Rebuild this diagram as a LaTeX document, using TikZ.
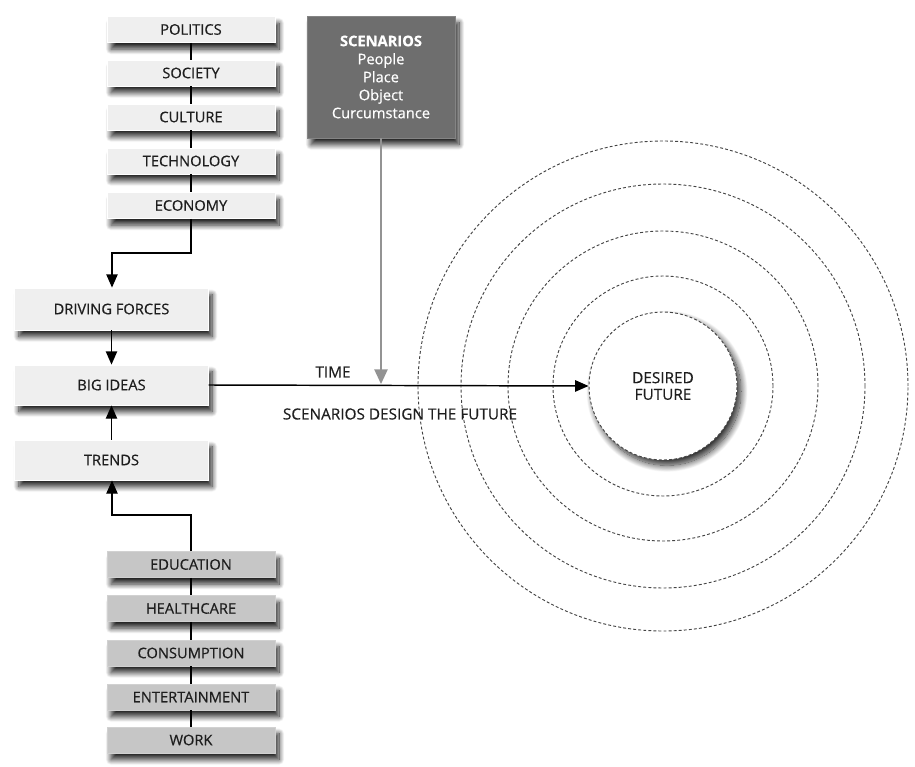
\documentclass[tikz,border=0pt]{standalone}
\usepackage{fontspec}
\setmainfont{Open Sans}[FakeBold=0.45]
\usetikzlibrary{arrows.meta,shadows.blur,calc}
\definecolor{boxlight}{HTML}{EFEFEF}
\definecolor{boxmid}{HTML}{C6C6C6}
\definecolor{boxdark}{HTML}{6E6E6E}
\definecolor{ringgray}{HTML}{444444}
\definecolor{ink}{HTML}{1E1E1E}
\begin{document}
\begin{tikzpicture}[x=0.75pt,y=-0.75pt,
  shad/.style={blur shadow={shadow xshift=3pt,shadow yshift=-5pt,shadow blur radius=4pt,shadow blur steps=14,shadow opacity=85}},
  smallbox/.style={shad,fill=boxlight,draw=white,line width=0.6pt,minimum width=126pt,minimum height=19.5pt,inner sep=0pt,text=ink,font=\fontsize{11}{13}\selectfont},
  midbox/.style={smallbox,fill=boxmid,draw=boxmid!80!white},
  bigbox/.style={shad,fill=boxlight,draw=white,line width=0.6pt,minimum width=145pt,minimum height=30pt,inner sep=0pt,text=ink,font=\fontsize{11}{13}\selectfont},
  link/.style={line width=1.1pt,black},
  arr/.style={link,-{Triangle[length=10pt,width=8.5pt]}},
  ring/.style={draw=ringgray,line width=0.7pt,dash pattern=on 2.2pt off 1.6pt},
  plain/.style={text=ink,font=\fontsize{11.5}{13}\selectfont}
]
\useasboundingbox (0,0) rectangle (915,767);

% concentric time rings around the goal
\foreach \r in {245,202,155,110}
  \draw[ring] (663,386) circle[radius=\r*0.75pt];
\node[circle,ring,fill=white,minimum size=111pt,inner sep=0pt,
      blur shadow={shadow xshift=3pt,shadow yshift=-4pt,shadow blur radius=5pt,shadow blur steps=16,shadow opacity=85},
      align=center,text=ink,font=\fontsize{11.5}{12.5}\selectfont] (future) at (663,386) {DESIRED\\FUTURE};

% macro environment
\node[smallbox] (pol) at (191,29.5) {POLITICS};
\node[smallbox] (soc) at (191,73) {SOCIETY};
\node[smallbox] (cul) at (191,117) {CULTURE};
\node[smallbox] (tec) at (191,161) {TECHNOLOGY};
\node[smallbox] (eco) at (191,205.5) {ECONOMY};

% core chain
\node[bigbox,minimum height=31.5pt] (drv) at (111.5,309) {DRIVING FORCES};
\node[bigbox] (big) at (111.5,385) {BIG IDEAS};
\node[bigbox] (trd) at (111.5,460) {TRENDS};

% everyday domains
\node[midbox] (edu) at (191,564.5) {EDUCATION};
\node[midbox] (hea) at (191,608.5) {HEALTHCARE};
\node[midbox] (con) at (191,653) {CONSUMPTION};
\node[midbox] (ent) at (191,697) {ENTERTAINMENT};
\node[midbox] (wrk) at (191,740) {WORK};

% scenario card
\node[shad,fill=boxdark,draw=boxdark!85!white,line width=0.6pt,minimum width=111pt,minimum height=91.5pt,inner sep=0pt,
      text=white,align=center,font=\fontsize{11}{13.5}\selectfont] (scn) at (381,77)
      {\textbf{SCENARIOS}\\People\\Place\\Object\\Curcumstance};

% stacks
\draw[link] (pol) -- (soc) (soc) -- (cul) (cul) -- (tec) (tec) -- (eco);
\draw[link] (edu) -- (hea) (hea) -- (con) (con) -- (ent) (ent) -- (wrk);

% flows into the core chain
\coordinate (ecoA) at (191,253);
\coordinate (ecoB) at (112,253);
\draw[arr] (eco.south) -- (ecoA) -- (ecoB) -- (drv.north -| ecoB);
\draw[arr] (drv) -- (big);
\draw[arr] (trd) -- (big);
\coordinate (eduA) at (191,515);
\coordinate (eduB) at (112,515);
\draw[arr] (edu.north) -- (eduA) -- (eduB) -- (trd.south -| eduB);

% time axis
\draw[arr] (big.east) -- (future.west);
\coordinate (tlane) at (381,384);
\draw[line width=1.1pt,gray!85,-{Triangle[length=11pt,width=10pt]}] (scn.south) -- (tlane);
\node[plain] (time) at (333,372) {TIME};
\node[plain] (sdf) at (400,414) {SCENARIOS DESIGN THE FUTURE};
\end{tikzpicture}
\end{document}
